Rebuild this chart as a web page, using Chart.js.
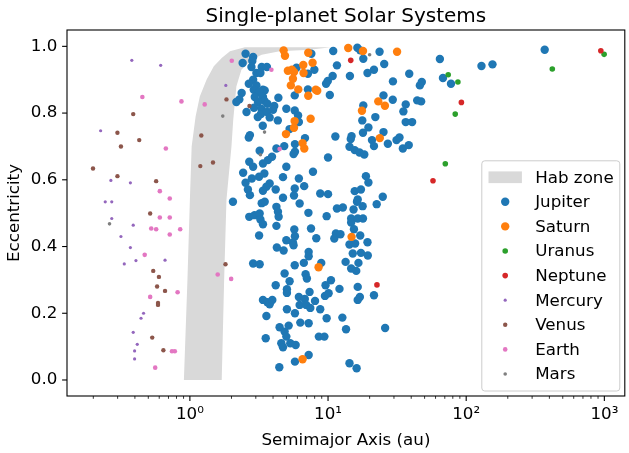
<!DOCTYPE html>
<html>
<head>
<meta charset="utf-8">
<script src="https://cdn.jsdelivr.net/npm/chart.js@4/dist/chart.umd.min.js"></script>
<style>html,body{margin:0;padding:0;background:#fff}</style>
</head>
<body>
<canvas id="planetChart" width="629" height="453"></canvas>
<script>
// Tick labels
const xTicks = [1, 10, 100, 1000];
const xTickLabels = ['10⁰', '10¹', '10²', '10³'];
const yTicks = [0, 0.2, 0.4, 0.6, 0.8, 1.0];

// Habitable zone boundaries (au vs eccentricity)
const habInnerA = [0.905, 0.96, 1.0, 1.03, 1.10, 1.18, 1.32, 1.49, 1.70, 1.95, 2.5];
const habInnerE = [0.0, 0.30, 0.54, 0.70, 0.79, 0.85, 0.90, 0.94, 0.965, 0.985, 0.997];
const habOuterA = [10.5, 7.35, 4.47, 3.31, 2.79, 2.36, 2.17, 2.06, 2.0, 1.84, 1.77, 1.70];
const habOuterE = [0.997, 0.99, 0.985, 0.975, 0.96, 0.93, 0.88, 0.78, 0.70, 0.54, 0.30, 0.0];

// Jupiter
const jupiterA = [2.53, 2.41, 2.87, 2.83, 2.79, 3.31, 3.61, 3.03, 3.24, 7.57, 10.9, 16.3, 17.1, 18.0, 23.6, 11.6,
  5.91, 7.96, 7.15, 10.8, 14.4, 19.3, 21.5, 25.5, 38.7, 9.96, 9.68, 2.87, 2.67, 3.03, 2.90, 3.38, 3.48, 3.17,
  29.5, 47.7, 46.2, 7.15, 5.74, 10.3, 2.37, 2.28, 3.38, 2.95, 3.46, 3.64, 3.11, 4.08, 2.17, 4.37, 2.57, 2.91,
  3.29, 3.27, 3.62, 4.0, 3.10, 3.78, 4.33, 4.99, 5.74, 6.07, 6.15, 5.27, 3.37, 25.2, 29.4, 18.0, 36.5, 44.2,
  47.2, 35.1, 22.0, 17.7, 36.5, 40.6, 19.6, 17.9, 25.2, 14.8, 14.6, 11.3, 6.81, 5.76, 2.72, 2.67, 20.8, 21.5,
  27.1, 31.3, 32.9, 34.8, 38.4, 14.3, 15.6, 16.9, 18.3, 4.23, 4.82, 3.20, 5.76, 5.63, 3.93, 3.67, 3.38, 2.69,
  2.87, 10.0, 4.99, 2.43, 3.46, 3.17, 4.72, 6.15, 7.78, 18.8, 19.6, 2.53, 2.63, 2.72, 2.81, 3.78, 3.58, 3.38,
  4.18, 5.74, 5.67, 6.72, 4.72, 8.78, 10.0, 15.6, 17.3, 16.4, 24.9, 22.5, 2.05, 3.31, 3.48, 6.23, 12.8, 11.6,
  17.8, 4.23, 4.34, 4.39, 2.69, 2.94, 3.20, 3.24, 3.38, 7.21, 9.77, 15.3, 16.2, 14.7, 14.7, 16.4, 17.9, 15.4,
  4.23, 5.70, 7.53, 3.17, 5.76, 5.57, 5.63, 4.99, 8.22, 11.4, 11.1, 12.3, 14.3, 15.7, 17.1, 19.3, 4.26, 4.77,
  7.24, 7.24, 15.1, 17.3, 19.4, 2.87, 3.20, 5.74, 6.68, 8.93, 13.4, 16.6, 14.7, 16.0, 4.85, 6.88, 7.03, 5.27,
  4.18, 10.5, 9.59, 12.1, 16.4, 5.04, 5.04, 7.35, 6.15, 6.79, 9.50, 10.1, 3.38, 3.64, 3.78, 3.95, 8.05, 6.23,
  6.95, 7.44, 8.78, 5.04, 5.76, 17.0, 16.4, 21.5, 3.58, 9.77, 12.7, 6.30, 7.24, 4.46, 4.85, 4.99, 5.19, 13.5,
  25.9, 3.54, 4.59, 4.72, 5.33, 5.83, 8.58, 9.41, 7.24, 5.76, 4.44, 14.3, 16.1, 370, 64.5, 129, 155, 67.9, 77.6];
const jupiterE = [0.978, 0.95, 0.968, 0.956, 0.938, 0.938, 0.938, 0.92, 0.92, 0.978, 0.986, 0.996, 0.988, 0.963,
  0.984, 0.943, 0.936, 0.93, 0.918, 0.911, 0.911, 0.92, 0.93, 0.947, 0.918, 0.896, 0.888, 0.90, 0.888, 0.883,
  0.87, 0.87, 0.868, 0.863, 0.895, 0.893, 0.883, 0.871, 0.853, 0.854, 0.86, 0.841, 0.848, 0.848, 0.837, 0.828,
  0.833, 0.821, 0.833, 0.846, 0.803, 0.816, 0.813, 0.797, 0.803, 0.81, 0.788, 0.787, 0.778, 0.813, 0.808, 0.793,
  0.773, 0.752, 0.762, 0.853, 0.84, 0.823, 0.826, 0.838, 0.835, 0.805, 0.788, 0.778, 0.773, 0.773, 0.757, 0.741,
  0.743, 0.731, 0.722, 0.73, 0.725, 0.707, 0.734, 0.727, 0.719, 0.701, 0.708, 0.719, 0.727, 0.694, 0.704, 0.699,
  0.689, 0.682, 0.676, 0.694, 0.701, 0.687, 0.684, 0.677, 0.669, 0.659, 0.649, 0.654, 0.639, 0.667, 0.639, 0.621,
  0.619, 0.609, 0.608, 0.604, 0.624, 0.611, 0.592, 0.591, 0.571, 0.554, 0.604, 0.589, 0.579, 0.567, 0.571, 0.574,
  0.553, 0.581, 0.546, 0.559, 0.557, 0.566, 0.571, 0.541, 0.549, 0.527, 0.534, 0.53, 0.534, 0.529, 0.517, 0.514,
  0.521, 0.519, 0.504, 0.489, 0.489, 0.494, 0.499, 0.481, 0.467, 0.501, 0.491, 0.511, 0.534, 0.484, 0.472, 0.484,
  0.484, 0.452, 0.462, 0.451, 0.454, 0.433, 0.431, 0.412, 0.404, 0.419, 0.425, 0.439, 0.424, 0.437, 0.406, 0.409,
  0.433, 0.413, 0.397, 0.388, 0.384, 0.371, 0.379, 0.381, 0.373, 0.349, 0.347, 0.344, 0.351, 0.351, 0.354, 0.351,
  0.334, 0.327, 0.319, 0.317, 0.304, 0.296, 0.284, 0.299, 0.284, 0.273, 0.279, 0.272, 0.261, 0.264, 0.249, 0.243,
  0.252, 0.26, 0.24, 0.233, 0.227, 0.24, 0.237, 0.225, 0.225, 0.216, 0.212, 0.212, 0.20, 0.249, 0.24, 0.254,
  0.192, 0.185, 0.187, 0.172, 0.17, 0.158, 0.145, 0.13, 0.163, 0.152, 0.156, 0.125, 0.11, 0.098, 0.11, 0.105,
  0.13, 0.13, 0.075, 0.055, 0.038, 0.05, 0.035, 0.99, 0.962, 0.941, 0.946, 0.905, 0.888];

// Saturn
const saturnA = [4.77, 4.88, 7.19, 7.73, 14.0, 17.9, 31.6, 5.12, 5.48, 5.67, 6.62, 6.65, 5.57, 5.38, 6.09, 7.19,
  8.15, 8.35, 23.1, 25.8, 17.6, 5.73, 5.67, 7.48, 4.96, 23.7, 6.54, 6.73, 14.8, 8.54, 6.54];
const saturnE = [0.988, 0.972, 0.981, 0.951, 0.995, 0.986, 0.984, 0.927, 0.93, 0.923, 0.944, 0.92, 0.903, 0.883,
  0.871, 0.852, 0.87, 0.867, 0.835, 0.822, 0.807, 0.776, 0.756, 0.783, 0.737, 0.725, 0.71, 0.694, 0.429, 0.338, 0.062];

// Uranus
const uranusA = [74.1, 87.1, 83.3, 420, 996, 70.6];
const uranusE = [0.915, 0.893, 0.797, 0.932, 0.976, 0.648];

// Neptune
const neptuneA = [943, 92.3, 57.5, 14.6, 22.6];
const neptuneE = [0.987, 0.832, 0.597, 0.958, 0.285];

// Mercury
const mercuryA = [0.38, 0.615, 1.82, 0.226, 0.268, 0.371, 0.244, 0.272, 0.272, 0.389, 0.317, 0.371, 0.335,
  0.407, 0.661, 0.462, 0.443, 0.389, 0.416, 0.398, 0.398];
const mercuryE = [0.958, 0.943, 0.883, 0.747, 0.598, 0.591, 0.534, 0.534, 0.484, 0.464, 0.43, 0.397, 0.348,
  0.358, 0.359, 0.20, 0.185, 0.143, 0.107, 0.087, 0.063];

// Venus
const venusA = [1.84, 2.70, 0.389, 0.299, 0.43, 0.317, 1.21, 1.19, 1.47, 0.199, 0.299, 0.57, 0.516, 1.81,
  0.543, 0.597, 0.579, 0.661, 0.588, 0.588, 0.534, 0.643];
const venusE = [0.841, 0.821, 0.797, 0.741, 0.719, 0.70, 0.733, 0.641, 0.652, 0.634, 0.611, 0.596, 0.499, 0.347,
  0.327, 0.309, 0.28, 0.267, 0.231, 0.225, 0.127, 0.089];

// Earth
const earthA = [2.01, 0.453, 0.869, 1.28, 3.89, 0.67, 0.606, 0.715, 0.606, 0.715, 0.525, 0.57, 0.851, 0.715,
  0.471, 1.59, 1.99, 0.815, 0.516, 0.742, 0.778, 0.561, 4.46];
const earthE = [0.957, 0.848, 0.835, 0.826, 0.93, 0.694, 0.566, 0.544, 0.487, 0.487, 0.454, 0.452, 0.452, 0.436,
  0.375, 0.316, 0.303, 0.263, 0.249, 0.086, 0.086, 0.037, 0.692];

// Mars
const marsA = [1.73, 3.47, 0.262, 20.0, 3.24];
const marsE = [0.791, 0.743, 0.468, 0.975, 0.675];

const FONT = "'DejaVu Sans', sans-serif";

function pairUp(a, e) {
  return a.map((v, i) => ({ x: v, y: e[i] }));
}

const habShape = pairUp(habInnerA, habInnerE).concat(pairUp(habOuterA, habOuterE));

function planet(label, a, e, color, r, order) {
  return {
    label: label,
    data: pairUp(a, e),
    backgroundColor: color,
    borderWidth: 0,
    pointRadius: r,
    pointHoverRadius: r,
    order: order
  };
}

const datasets = [
  {
    label: 'Hab zone',
    data: habShape,
    showLine: true,
    fill: 'shape',
    backgroundColor: '#d9d9d9',
    borderWidth: 0,
    pointRadius: 0,
    tension: 0,
    order: 10
  },
  planet('Jupiter', jupiterA, jupiterE, '#1f77b4', 4.2, 8),
  planet('Saturn', saturnA, saturnE, '#ff7f0e', 4.2, 7),
  planet('Uranus', uranusA, uranusE, '#2ca02c', 2.8, 6),
  planet('Neptune', neptuneA, neptuneE, '#d62728', 2.8, 5),
  planet('Mercury', mercuryA, mercuryE, '#9467bd', 1.6, 4),
  planet('Venus', venusA, venusE, '#8c564b', 2.2, 3),
  planet('Earth', earthA, earthE, '#e377c2', 2.3, 2),
  planet('Mars', marsA, marsE, '#7f7f7f', 1.8, 1)
];

// frame, tick marks, title and legend drawn the matplotlib way
const mplLook = {
  id: 'mplLook',
  afterDatasetsDraw(chart) {
    const { ctx, chartArea: area, scales } = chart;
    const x = scales.x, y = scales.y;
    ctx.save();
    ctx.strokeStyle = '#000';
    ctx.lineWidth = 1.1;
    ctx.strokeRect(area.left, area.top, area.right - area.left, area.bottom - area.top);

    const tick = (x0, y0, x1, y1, w) => {
      ctx.lineWidth = w;
      ctx.beginPath();
      ctx.moveTo(x0, y0);
      ctx.lineTo(x1, y1);
      ctx.stroke();
    };
    xTicks.forEach(v => {
      const px = x.getPixelForValue(v);
      tick(px, area.bottom, px, area.bottom + 4.9, 1.1);
    });
    for (let d = 0.1; d < 2000; d *= 10) {
      for (let k = 2; k <= 9; k++) {
        const v = k * d;
        if (v < x.min || v > x.max) continue;
        const px = x.getPixelForValue(v);
        tick(px, area.bottom, px, area.bottom + 2.8, 0.8);
      }
    }
    yTicks.forEach(v => {
      const py = y.getPixelForValue(v);
      tick(area.left, py, area.left - 4.9, py, 1.1);
    });
    ctx.restore();
  },
  afterDraw(chart) {
    const { ctx, chartArea: area } = chart;
    ctx.save();
    // title
    ctx.fillStyle = '#000';
    ctx.font = '20px ' + FONT;
    ctx.textAlign = 'center';
    ctx.textBaseline = 'alphabetic';
    ctx.fillText('Single-planet Solar Systems', (area.left + area.right) / 2, area.top - 8.3);

    // legend
    const fs = 16.7;
    const rowH = 24.6;
    const items = chart.data.datasets;
    const boxW = 138, boxH = 2 * 6.7 + rowH * items.length - 4.6;
    const bx = area.right - 5 - boxW, by = area.bottom - 5 - boxH;
    ctx.beginPath();
    ctx.roundRect(bx, by, boxW, boxH, 3);
    ctx.fillStyle = 'rgba(255,255,255,0.8)';
    ctx.fill();
    ctx.strokeStyle = '#cccccc';
    ctx.lineWidth = 1;
    ctx.stroke();
    ctx.font = fs + 'px ' + FONT;
    ctx.textAlign = 'left';
    ctx.textBaseline = 'middle';
    items.forEach((ds, i) => {
      const cy = by + 6.7 + 9.7 + i * rowH;
      const hx = bx + 6.7;
      if (ds.fill) {
        ctx.fillStyle = ds.backgroundColor;
        ctx.fillRect(hx, cy - 5.8, 33.4, 11.7);
      } else {
        ctx.fillStyle = ds.backgroundColor;
        ctx.beginPath();
        ctx.arc(hx + 16.7, cy, ds.pointRadius, 0, Math.PI * 2);
        ctx.fill();
      }
      ctx.fillStyle = '#000';
      ctx.fillText(ds.label, hx + 33.4 + 13.3, cy + 1);
    });
    ctx.restore();
  }
};

new Chart(document.getElementById('planetChart'), {
  type: 'scatter',
  data: { datasets: datasets },
  options: {
    responsive: false,
    animation: false,
    events: [],
    layout: { padding: { left: 0, right: 3, top: 30, bottom: 0 } },
    plugins: {
      legend: { display: false },
      tooltip: { enabled: false },
      title: { display: false }
    },
    scales: {
      x: {
        type: 'logarithmic',
        min: 0.129,
        max: 1406,
        grid: { drawOnChartArea: false, drawTicks: false },
        border: { display: false },
        afterBuildTicks: scale => { scale.ticks = xTicks.map(v => ({ value: v })); },
        afterFit: scale => { scale.height = 57; },
        ticks: {
          autoSkip: false,
          maxRotation: 0,
          padding: 9,
          color: '#000',
          font: { family: FONT, size: 16.7 },
          callback: value => xTickLabels[xTicks.indexOf(value)]
        },
        title: {
          display: true,
          text: 'Semimajor Axis (au)',
          color: '#000',
          font: { family: FONT, size: 16.7 },
          padding: { top: 0, bottom: 2 }
        }
      },
      y: {
        type: 'linear',
        min: -0.048,
        max: 1.049,
        grid: { drawOnChartArea: false, drawTicks: false },
        border: { display: false },
        afterBuildTicks: scale => { scale.ticks = yTicks.map(v => ({ value: v })); },
        afterFit: scale => { scale.width = 67; },
        ticks: {
          padding: 9.7,
          color: '#000',
          font: { family: FONT, size: 16.7 },
          callback: value => value.toFixed(1)
        },
        title: {
          display: true,
          text: 'Eccentricity',
          color: '#000',
          font: { family: FONT, size: 16.7 },
          padding: { top: 5, bottom: 0 }
        }
      }
    }
  },
  plugins: [mplLook]
});
</script>
</body>
</html>
